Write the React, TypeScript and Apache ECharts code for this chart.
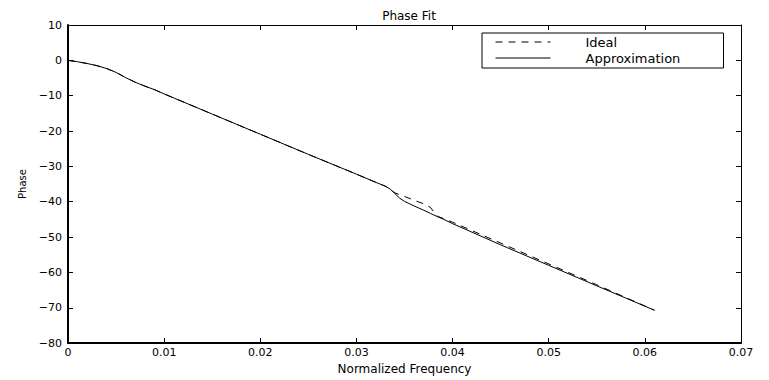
import React, { useEffect, useRef } from "react";
import * as echarts from "echarts";

const freq = [0, 0.001, 0.002, 0.003, 0.004, 0.005, 0.006, 0.007, 0.008, 0.009, 0.01, 0.015, 0.02, 0.025, 0.03, 0.032, 0.033, 0.0335, 0.034, 0.0345, 0.035, 0.036, 0.037, 0.0377, 0.038, 0.0385, 0.039, 0.04, 0.045, 0.05, 0.055, 0.061];
const idealPhase = [0, -0.4, -0.9, -1.5, -2.3, -3.4, -4.9, -6.2, -7.3, -8.3, -9.5, -15.2, -20.9, -26.6, -32.2, -34.5, -35.6, -36.4, -37.5, -38.0, -38.5, -39.6, -40.6, -41.6, -42.7, -44.2, -44.7, -45.8, -51.7, -57.6, -63.5, -70.7];
const approxPhase = [0, -0.4, -0.9, -1.5, -2.3, -3.4, -4.9, -6.2, -7.3, -8.3, -9.5, -15.2, -20.9, -26.6, -32.2, -34.5, -35.6, -36.4, -37.7, -39.0, -39.9, -41.2, -42.4, -43.3, -43.7, -44.3, -44.9, -46.2, -52.2, -58.0, -63.8, -70.7];
const seriesNames = ["Ideal", "Approximation"];
const titleText = "Phase Fit";
const xName = "Normalized Frequency";
const yName = "Phase";

const FONT = "DejaVu Sans";
const fmtNum = (v: number) => String(v).replace("-", "\u2212");

export default function App() {
  const ref = useRef<HTMLDivElement>(null);
  useEffect(() => {
    if (!ref.current) return;
    const chart = echarts.init(ref.current, null, { renderer: "svg" });
    const xCommon = { type: "value", min: 0, max: 0.07, interval: 0.01, splitLine: { show: false } };
    const yCommon = { type: "value", min: -80, max: 10, interval: 10, splitLine: { show: false } };
    chart.setOption({
      animation: false,
      backgroundColor: "#fff",
      title: {
        text: titleText,
        left: 404,
        top: 5,
        textAlign: "center",
        textStyle: { fontFamily: FONT, fontSize: 12, fontWeight: "normal", color: "#000" },
      },
      grid: { left: 68, right: 28, top: 25, bottom: 27, show: false },
      legend: {
        data: seriesNames,
        orient: "vertical",
        left: 482,
        top: 33,
        padding: [1, 6, 2, 13],
        itemGap: 0,
        itemWidth: 55,
        itemHeight: 16,
        borderColor: "#000",
        borderWidth: 1,
        backgroundColor: "#fff",
        itemStyle: { opacity: 0 },
        lineStyle: { width: 1 },
        textStyle: { fontFamily: FONT, fontSize: 13, color: "#000", lineHeight: 16, padding: [0, 0, 0, 30], width: 132 },
      },
      xAxis: [
        {
          ...xCommon,
          position: "bottom",
          name: xName,
          nameLocation: "middle",
          nameGap: 15,
          nameTextStyle: { fontFamily: FONT, fontSize: 12, color: "#000" },
          axisLine: { show: true, onZero: false, lineStyle: { color: "#000", width: 2 } },
          axisTick: { show: true, inside: true, length: 5, lineStyle: { color: "#000" } },
          axisLabel: { fontFamily: FONT, fontSize: 11, color: "#000", margin: 4, formatter: fmtNum },
        },
        {
          ...xCommon,
          position: "top",
          axisLine: { show: true, onZero: false, lineStyle: { color: "#000", width: 1 } },
          axisTick: { show: true, inside: true, length: 5, lineStyle: { color: "#000" } },
          axisLabel: { show: false },
        },
      ],
      yAxis: [
        {
          ...yCommon,
          position: "left",
          name: yName,
          nameLocation: "middle",
          nameGap: 31,
          nameRotate: 90,
          nameTextStyle: { fontFamily: FONT, fontSize: 10, color: "#000" },
          axisLine: { show: true, onZero: false, lineStyle: { color: "#000", width: 2 } },
          axisTick: { show: true, inside: true, length: 5, lineStyle: { color: "#000" } },
          axisLabel: { fontFamily: FONT, fontSize: 11, color: "#000", margin: 6, formatter: fmtNum },
        },
        {
          ...yCommon,
          position: "right",
          axisLine: { show: true, onZero: false, lineStyle: { color: "#000", width: 1 } },
          axisTick: { show: true, inside: true, length: 5, lineStyle: { color: "#000" } },
          axisLabel: { show: false },
        },
      ],
      series: [
        {
          name: seriesNames[0],
          type: "line",
          symbol: "none",
          color: "#000",
          lineStyle: { color: "#000", width: 1, type: [7, 6] },
          data: freq.map((f, i) => [f, idealPhase[i]]),
        },
        {
          name: seriesNames[1],
          type: "line",
          symbol: "none",
          color: "#000",
          lineStyle: { color: "#000", width: 1, type: "solid" },
          data: freq.map((f, i) => [f, approxPhase[i]]),
        },
      ],
    });
    return () => chart.dispose();
  }, []);
  return <div ref={ref} style={{ position: "fixed", left: 0, top: 0, width: 769, height: 380 }} />;
}
